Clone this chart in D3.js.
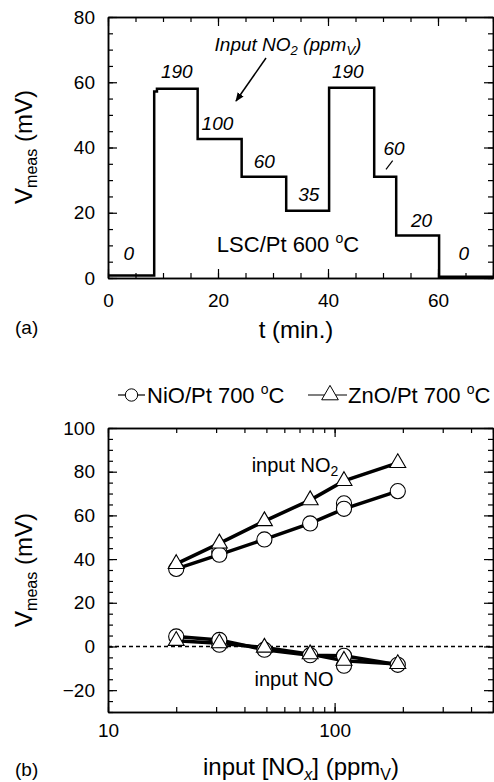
<!DOCTYPE html>
<html>
<head>
<meta charset="utf-8">
<script src="https://cdn.jsdelivr.net/npm/d3@7"></script>
<style>
  body { margin: 0; background: #fff; }
  svg text { font-family: "Liberation Sans", Arial, sans-serif; fill: #000; }
</style>
</head>
<body>
<script>
// panel (a): step response, LSC/Pt 600 C
var tMin  = [0,   8.4, 8.9,  16.3, 24.3, 32.4, 40.2, 48.4, 52.4, 60.2, 70];
var vMeas = [0.8, 57.2, 58,  42.6, 31,   20.6, 58.3, 31,   13,   0.4,  0.4];

var stepLabels = ["0", "190", "100", "60", "35", "190", "60", "20", "0"];
var stepLabelT = [3.8, 12.5, 19.9, 28.4, 36.5, 43.6, 52.0, 57.0, 64.7];
var stepLabelV = [5.5, 61.3, 45.4, 33.7, 23.6, 61.3, 37.7, 15.6, 5.5];

// panel (b): sensitivity vs concentration
var conc     = [20,   31,   49,   78,   110,  190];
var nioNO2   = [35.5, 42,   49,   56.3, 63,   71.1];
var nioNO2b  = [null, 43.5, null, null, 65.5, null];
var znoNO2   = [37.8, 47.2, 57.4, 67,   75.8, 84];
var nioNO    = [4.6,  3.0,  -1.5, -4,   -4.3, -8.4];
var nioNOb   = [null, 0.8,  null, null, -8.8, null];
var znoNO    = [2.6,  1.5,  -0.5, -3.5, -6.5, -8];

var xTicksA = [0, 20, 40, 60];
var yTicksA = [0, 20, 40, 60, 80];
var xTicksB = [10, 100];
var yTicksB = [-20, 0, 20, 40, 60, 80, 100];

var svg = d3.select("body").append("svg")
    .attr("width", 494)
    .attr("height", 782);

var xA = d3.scaleLinear().domain([0, 70]).range([108, 493]);
var yA = d3.scaleLinear().domain([0, 80]).range([278, 17]);
var xB = d3.scaleLog().domain([10, 500]).range([108, 493]);
var yB = d3.scaleLinear().domain([-30, 100]).range([712, 428]);

function range5(a, b)
{
    var r = [];
    for (var v = a; v <= b + 0.001; v += 5) r.push(v);
    return r;
}

function logMinor(a, b)
{
    var r = [];
    for (var d = 10; d < b; d *= 10)
        for (var k = 1; k < 10; k++)
            if (d * k >= a && d * k <= b) r.push(d * k);
    return r;
}

// draws frame, inward ticks on all four sides, labels bottom/left
function drawFrame(x, y, xMaj, xMin, yMaj, yMin, xPad)
{
    var x0 = x.range()[0], x1 = x.range()[1];
    var y0 = y.range()[0], y1 = y.range()[1];
    var sides = [
        [d3.axisBottom(x), y0, true],
        [d3.axisTop(x),    y1, false]
    ];
    sides.forEach(function(s) {
        var g = svg.append("g").attr("transform", "translate(0," + s[1] + ")");
        g.call(s[0].tickValues(xMin).tickSizeInner(-5).tickSizeOuter(0).tickFormat(""));
        g.selectAll(".tick text").remove();
        var g2 = svg.append("g").attr("transform", "translate(0," + s[1] + ")");
        g2.call(s[0].tickValues(xMaj).tickSizeInner(-9).tickSizeOuter(0).tickPadding(xPad)
            .tickFormat(s[2] ? d3.format("d") : ""));
    });
    var vs = [
        [d3.axisLeft(y),  x0, true],
        [d3.axisRight(y), x1, false]
    ];
    vs.forEach(function(s) {
        var g = svg.append("g").attr("transform", "translate(" + s[1] + ",0)");
        g.call(s[0].tickValues(yMin).tickSizeInner(-5).tickSizeOuter(0).tickFormat(""));
        var g2 = svg.append("g").attr("transform", "translate(" + s[1] + ",0)");
        g2.call(s[0].tickValues(yMaj).tickSizeInner(-9).tickSizeOuter(0).tickPadding(13)
            .tickFormat(s[2] ? d3.format("d") : ""));
    });
}

drawFrame(xA, yA, xTicksA, range5(0, 70), yTicksA, range5(0, 80), 16);
drawFrame(xB, yB, xTicksB, logMinor(10, 500), yTicksB, range5(-30, 100), 12);

svg.selectAll(".domain").attr("stroke-width", 1.5);
svg.selectAll(".tick line").attr("stroke-width", 1.2);
svg.selectAll(".tick text").attr("font-size", 19).style("font-family", "'Liberation Sans', Arial, sans-serif");

// ---- panel (a) data
var stepLine = d3.line()
    .x(function(d, i) { return xA(tMin[i]); })
    .y(function(d) { return yA(d); })
    .curve(d3.curveStepAfter);

svg.append("path")
    .datum(vMeas)
    .attr("d", stepLine)
    .attr("fill", "none")
    .attr("stroke", "#000")
    .attr("stroke-width", 2.5);

stepLabels.forEach(function(s, i) {
    svg.append("text")
        .attr("x", xA(stepLabelT[i]))
        .attr("y", yA(stepLabelV[i]))
        .attr("text-anchor", "middle")
        .attr("font-size", 19)
        .attr("font-style", "italic")
        .text(s);
});

// small tick pointing at second 60 step
svg.append("line")
    .attr("x1", 392.7).attr("y1", 160.7)
    .attr("x2", 386).attr("y2", 169.3)
    .attr("stroke", "#000").attr("stroke-width", 1.2);

var defs = svg.append("defs");
defs.append("marker")
    .attr("id", "flecha")
    .attr("viewBox", "0 0 10 10")
    .attr("refX", 9).attr("refY", 5)
    .attr("markerWidth", 9).attr("markerHeight", 9)
    .attr("markerUnits", "userSpaceOnUse")
    .attr("orient", "auto")
    .append("path")
    .attr("d", "M0,1 L10,5 L0,9 Z")
    .attr("fill", "#000");

svg.append("line")
    .attr("x1", 266).attr("y1", 58)
    .attr("x2", 236).attr("y2", 101)
    .attr("stroke", "#000").attr("stroke-width", 1.5)
    .attr("marker-end", "url(#flecha)");

var ann = svg.append("text")
    .attr("x", 288).attr("y", 51)
    .attr("text-anchor", "middle")
    .attr("font-size", 19)
    .attr("font-style", "italic");
ann.append("tspan").text("Input NO");
ann.append("tspan").attr("font-size", 13).attr("dy", 4).text("2");
ann.append("tspan").attr("dy", -4).text(" (ppm");
ann.append("tspan").attr("font-size", 13).attr("dy", 4).text("V");
ann.append("tspan").attr("dy", -4).text(")");

var lsc = svg.append("text")
    .attr("x", 288).attr("y", 252)
    .attr("text-anchor", "middle")
    .attr("font-size", 22);
lsc.append("tspan").text("LSC/Pt 600 ");
lsc.append("tspan").attr("font-size", 14).attr("dy", -9).text("o");
lsc.append("tspan").attr("dy", 9).text("C");

// ---- panel (b) data
svg.append("line")
    .attr("x1", xB(10)).attr("x2", xB(500))
    .attr("y1", yB(0)).attr("y2", yB(0))
    .attr("stroke", "#000").attr("stroke-width", 1.5)
    .attr("stroke-dasharray", "4,3");

var lineB = d3.line()
    .x(function(d, i) { return xB(conc[i]); })
    .y(function(d) { return yB(d); });

[nioNO2, znoNO2, nioNO, znoNO].forEach(function(serie) {
    svg.append("path")
        .datum(serie)
        .attr("d", lineB)
        .attr("fill", "none")
        .attr("stroke", "#000")
        .attr("stroke-width", 3.5);
});

var circ = d3.symbol().type(d3.symbolCircle).size(180);
var tri  = d3.symbol().type(d3.symbolTriangle).size(110);

function markers(serie, sym)
{
    serie.forEach(function(v, i) {
        if (v === null) return;
        svg.append("path")
            .attr("d", sym)
            .attr("transform", "translate(" + xB(conc[i]) + "," + yB(v) + ")")
            .attr("fill", "#fff")
            .attr("stroke", "#000")
            .attr("stroke-width", 1.1);
    });
}

markers(nioNO2b, circ);
markers(nioNO2, circ);
markers(nioNOb, circ);
markers(nioNO, circ);
markers(znoNO2, tri);
markers(znoNO, tri);

var t1 = svg.append("text").attr("x", 295).attr("y", 472)
    .attr("text-anchor", "middle").attr("font-size", 20);
t1.append("tspan").text("input NO");
t1.append("tspan").attr("font-size", 14).attr("dy", 4).text("2");

svg.append("text").attr("x", 294).attr("y", 686)
    .attr("text-anchor", "middle").attr("font-size", 20)
    .text("input NO");

// legend
var legend = [
    {sym: circ, x1: 118, x2: 145, mx: 131.5, tx: 147, name: "NiO/Pt 700 "},
    {sym: tri,  x1: 308, x2: 347, mx: 330,   tx: 348, name: "ZnO/Pt 700 "}
];
legend.forEach(function(l) {
    svg.append("line")
        .attr("x1", l.x1).attr("x2", l.x2)
        .attr("y1", 395).attr("y2", 395)
        .attr("stroke", "#000").attr("stroke-width", 1.2);
    svg.append("path")
        .attr("d", l.sym.size(120)())
        .attr("transform", "translate(" + l.mx + ",395)")
        .attr("fill", "#fff").attr("stroke", "#000").attr("stroke-width", 1);
    var t = svg.append("text").attr("x", l.tx).attr("y", 403).attr("font-size", 22);
    t.append("tspan").text(l.name);
    t.append("tspan").attr("font-size", 14).attr("dy", -9).text("o");
    t.append("tspan").attr("dy", 9).text("C");
});

// axis titles
function yTitle(cy)
{
    var t = svg.append("text")
        .attr("transform", "translate(32," + cy + ") rotate(-90)")
        .attr("text-anchor", "middle")
        .attr("font-size", 24);
    t.append("tspan").text("V");
    t.append("tspan").attr("font-size", 16).attr("dy", 5).text("meas");
    t.append("tspan").attr("dy", -5).text(" (mV)");
}
yTitle(147);
yTitle(570);

svg.append("text").attr("x", 296).attr("y", 338)
    .attr("text-anchor", "middle").attr("font-size", 24).text("t (min.)");
svg.append("text").attr("x", 15).attr("y", 334)
    .attr("font-size", 19).text("(a)");

var xt = svg.append("text").attr("x", 301).attr("y", 775)
    .attr("text-anchor", "middle").attr("font-size", 24);
xt.append("tspan").text("input [NO");
xt.append("tspan").attr("font-size", 16).attr("font-style", "italic").attr("dy", 5).text("x");
xt.append("tspan").attr("dy", -5).text("] (ppm");
xt.append("tspan").attr("font-size", 16).attr("dy", 5).text("V");
xt.append("tspan").attr("dy", -5).text(")");
svg.append("text").attr("x", 15).attr("y", 776)
    .attr("font-size", 19).text("(b)");
</script>
</body>
</html>
